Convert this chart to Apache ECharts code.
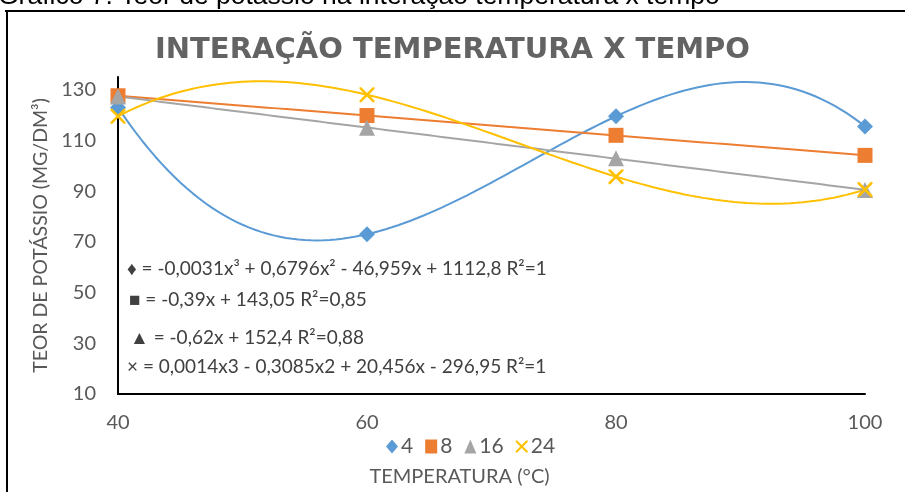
<!DOCTYPE html>
<html>
<head>
<meta charset="utf-8">
<script src="https://cdn.jsdelivr.net/npm/echarts@6/dist/echarts.min.js"></script>
<style>html,body{margin:0;padding:0;background:#fff}#c{width:905px;height:492px}</style>
</head>
<body>
<div id="c"></div>
<script>
const temps = [40, 60, 80, 100];
const s4 = [123, 73, 119.5, 115.5];
const s8 = [127.6, 119.8, 112, 104.1];
const s16 = [127.3, 115, 103, 90.4];
const s24 = [119.5, 128, 95.7, 90.6];
const seriesNames = ['4', '8', '16', '24'];
const trendDegree = [3, 1, 1, 3];
const equations = [
  '♦ = -0,0031x³ + 0,6796x² - 46,959x + 1112,8 R²=1',
  '■ = -0,39x + 143,05 R²=0,85',
  '▲ = -0,62x + 152,4 R²=0,88',
  '× = 0,0014x3 - 0,3085x2 + 20,456x - 296,95 R²=1'
];
const titleText = 'INTERAÇÃO TEMPERATURA X TEMPO';
const captionText = 'Gráfico 7. Teor de potássio na interação temperatura x tempo';
const xName = 'TEMPERATURA (°C)';
const yName = 'TEOR DE POTÁSSIO (MG/DM³)';

const colors = ['#5B9BD5', '#ED7D31', '#A5A5A5', '#FFC000'];
const xPath = 'path://M0,0 L2.4,0 L10,7.6 L17.6,0 L20,0 L20,2.4 L12.4,10 L20,17.6 L20,20 L17.6,20 L10,12.4 L2.4,20 L0,20 L0,17.6 L7.6,10 L0,2.4 Z';
const symbols = ['diamond', 'rect', 'triangle', xPath];
const symbolSizes = [16, 15, 16, 15];

// least-squares polynomial trendline (like a spreadsheet trendline)
function polyFit(xs, ys, deg) {
  const n = deg + 1;
  const A = [], b = [];
  const sx = v => (v - 70) / 30;
  for (let i = 0; i < n; i++) {
    A.push(new Array(n).fill(0)); b.push(0);
  }
  xs.forEach((x, k) => {
    const t = sx(x);
    for (let i = 0; i < n; i++) {
      for (let j = 0; j < n; j++) A[i][j] += Math.pow(t, i + j);
      b[i] += ys[k] * Math.pow(t, i);
    }
  });
  for (let c = 0; c < n; c++) {
    let p = c;
    for (let r = c + 1; r < n; r++) if (Math.abs(A[r][c]) > Math.abs(A[p][c])) p = r;
    [A[c], A[p]] = [A[p], A[c]]; [b[c], b[p]] = [b[p], b[c]];
    for (let r = 0; r < n; r++) {
      if (r === c) continue;
      const f = A[r][c] / A[c][c];
      for (let k = c; k < n; k++) A[r][k] -= f * A[c][k];
      b[r] -= f * b[c];
    }
  }
  const coef = b.map((v, i) => v / A[i][i]);
  return x => coef.reduce((s, c, i) => s + c * Math.pow(sx(x), i), 0);
}

const allSeries = [s4, s8, s16, s24];
const series = [];
allSeries.forEach((ys, i) => {
  const f = polyFit(temps, ys, trendDegree[i]);
  const pts = [];
  for (let x = temps[0]; x <= temps[temps.length - 1] + 1e-9; x += 0.5) pts.push([x, f(x)]);
  series.push({
    type: 'line', name: 'trend' + seriesNames[i], data: pts, showSymbol: false, silent: true,
    lineStyle: { color: colors[i], width: 2 }, z: 2, animation: false
  });
});
allSeries.forEach((ys, i) => {
  series.push({
    type: 'scatter', name: seriesNames[i], data: temps.map((x, k) => [x, ys[k]]),
    symbol: symbols[i], symbolSize: symbolSizes[i],
    itemStyle: { color: colors[i], opacity: 1 }, z: 5 + i, animation: false
  });
});

const chart = echarts.init(document.getElementById('c'), null, { renderer: 'canvas' });
const FONT = 'Lato';
chart.setOption({
  animation: false,
  title: {
    text: titleText, left: 'center', top: 31,
    textStyle: { fontFamily: 'DejaVu Sans', fontWeight: 'bold', fontSize: 29, color: '#636363' }
  },
  grid: { left: 118, right: 40, top: 77, bottom: 98 },
  legend: {
    data: seriesNames.map((n, i) => ({ name: n, icon: symbols[i] })),
    left: 381, top: 431, itemGap: 12, itemWidth: 12, itemHeight: 14,
    textStyle: { fontFamily: FONT, fontSize: 21, color: '#595959', padding: [0, 0, 0, -2] }
  },
  xAxis: {
    type: 'value', min: 40, max: 100, interval: 20,
    axisLine: { show: true, lineStyle: { color: '#000', width: 2 } },
    axisTick: { show: false }, splitLine: { show: false },
    axisLabel: { fontFamily: FONT, fontSize: 20, color: '#595959', margin: 19 },
    name: xName, nameLocation: 'middle', nameGap: 73,
    nameTextStyle: { fontFamily: FONT, fontSize: 20, color: '#595959', padding: [0, 64, 0, 0] }
  },
  yAxis: {
    type: 'value', min: 10, max: 135, interval: 20,
    axisLine: { show: true, lineStyle: { color: '#000', width: 2 } },
    axisTick: { show: false }, splitLine: { show: false },
    axisLabel: { fontFamily: FONT, fontSize: 20, color: '#595959', margin: 22, showMaxLabel: false },
    name: yName, nameLocation: 'middle', nameGap: 64,
    nameTextStyle: { fontFamily: FONT, fontSize: 19.5, color: '#595959' }
  },
  graphic: [
    { type: 'text', left: -2, top: -17, z: 10,
      style: { text: captionText, font: '26.5px "Liberation Sans"', fill: '#000' } },
    { type: 'line', shape: { x1: 5, y1: 11, x2: 905, y2: 11 }, style: { stroke: '#000', lineWidth: 2 }, z: 10 },
    { type: 'line', shape: { x1: 7, y1: 11, x2: 7, y2: 492 }, style: { stroke: '#000', lineWidth: 2 }, z: 10 },
    ...equations.map((t, i) => ({
      type: 'text', left: [127, 129, 130, 127][i], top: [259, 290, 328, 357][i], z: 10,
      style: { text: t, font: '19px Lato', fill: '#404040' }
    }))
  ],
  series: series
});
</script>
</body>
</html>
